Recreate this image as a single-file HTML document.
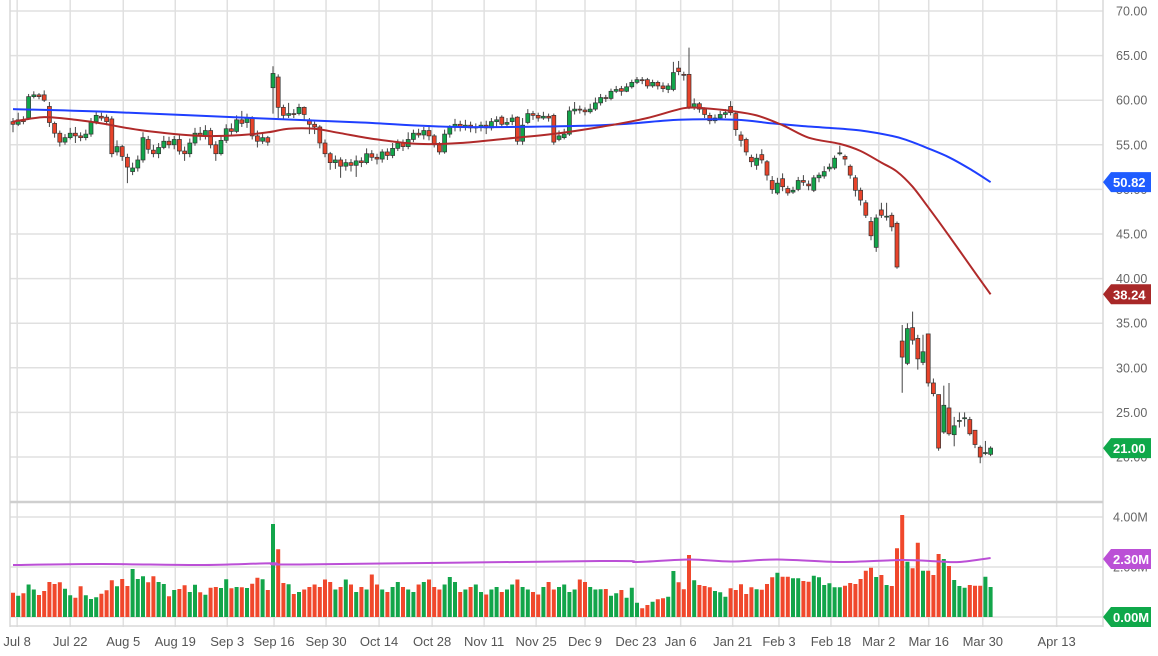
<!DOCTYPE html>
<html><head><meta charset="utf-8"><style>
html,body{margin:0;padding:0;background:#fff;}
svg{display:block;font-family:"Liberation Sans",sans-serif;}
</style></head><body>
<svg id="chart" width="1158" height="656" viewBox="0 0 1158 656" xmlns="http://www.w3.org/2000/svg">
<g id="grid"></g>
<g id="vol"></g>
<g id="candles"></g>
<g id="lines"></g>
<g id="axes"></g>
</svg>
<script>
const ohlc = [
[57.6,58.0,56.4,57.3],[57.3,58.6,57.1,57.8],[57.8,58.2,57.3,57.6],[58.0,60.7,57.8,60.4],[60.4,61.0,60.2,60.6],
[60.6,60.8,60.1,60.4],[60.6,61.1,59.8,60.0],[59.3,59.8,57.0,57.5],[57.4,57.6,55.8,56.3],[56.3,56.6,54.8,55.3],
[55.3,56.2,55.0,55.8],[55.8,56.9,55.6,56.3],[56.3,57.0,55.2,56.0],[56.0,56.4,55.4,55.8],[55.8,56.7,55.5,56.2],
[56.2,58.0,55.9,57.6],[57.6,58.8,57.3,58.3],[58.2,58.6,57.7,58.0],[58.1,58.4,57.2,57.6],[57.9,58.2,53.6,54.0],
[54.2,55.5,53.8,54.8],[54.8,55.0,53.2,53.7],[53.6,54.0,50.7,52.5],[52.0,53.0,51.6,52.4],[52.4,53.8,52.0,53.3],
[53.3,56.4,53.0,55.8],[55.6,56.0,54.0,54.5],[54.4,55.0,53.6,54.0],[54.0,55.2,53.5,54.7],[54.7,56.0,54.5,55.4],
[55.4,55.9,54.6,55.0],[55.0,56.0,54.5,55.6],[55.6,56.2,53.9,54.3],[54.3,54.8,53.2,54.0],[54.0,55.7,53.6,55.2],
[55.2,56.9,54.9,56.3],[56.3,57.0,55.5,56.0],[56.0,57.2,55.6,56.6],[56.6,56.9,54.6,55.0],[55.0,55.4,53.2,54.0],
[54.0,56.0,53.8,55.5],[55.5,57.3,55.2,56.8],[56.8,57.4,56.0,56.5],[56.5,58.3,56.3,57.8],[57.8,58.8,57.0,57.4],
[57.5,58.5,56.9,58.0],[58.0,58.2,55.6,56.0],[56.0,56.6,54.7,55.4],[55.4,56.3,55.1,55.8],[55.8,56.0,54.9,55.3],
[61.4,63.8,58.5,63.0],[62.6,62.9,58.0,59.2],[59.2,59.5,57.8,58.3],[58.3,59.7,58.0,58.5],[58.5,59.0,58.0,58.4],
[58.5,59.6,58.3,59.2],[59.2,59.3,57.8,58.4],[57.8,58.0,56.2,57.3],[57.3,57.6,56.2,57.0],[57.0,57.2,54.6,55.2],
[55.2,55.6,53.6,54.0],[54.0,54.2,52.2,53.0],[53.0,53.8,52.3,53.3],[53.3,53.6,51.3,52.6],[52.6,53.4,52.1,53.0],
[53.0,53.4,52.0,52.7],[52.7,53.8,51.4,53.2],[53.2,53.6,52.5,53.0],[53.0,54.6,52.8,54.0],[54.0,54.4,53.2,53.6],
[53.6,54.0,52.8,53.4],[53.4,54.5,53.0,54.2],[54.2,54.6,53.3,53.8],[53.8,55.2,53.5,54.6],[54.6,55.6,54.3,55.2],
[55.2,55.6,54.3,54.8],[54.8,56.4,54.5,55.6],[55.6,56.7,55.3,56.3],[56.3,56.8,55.8,56.1],[56.1,57.0,55.6,56.6],
[56.6,57.2,55.5,56.0],[56.0,56.2,54.7,55.0],[55.0,55.3,53.9,54.2],[54.2,56.7,54.0,56.2],[56.2,57.2,55.8,57.0],
[57.0,57.9,56.5,57.3],[57.3,57.7,56.5,57.0],[57.0,57.8,56.6,57.2],[57.2,57.6,56.4,56.9],[56.9,57.4,56.3,57.0],
[57.0,57.6,56.5,57.2],[57.2,57.7,56.2,56.9],[56.9,58.0,56.6,57.6],[57.6,58.2,57.0,57.8],[58.1,58.3,57.0,57.3],
[57.3,58.0,57.0,57.5],[57.6,58.4,57.2,58.0],[58.1,58.2,55.0,55.4],[55.4,58.0,55.0,57.2],[57.5,59.0,57.3,58.5],
[58.5,58.8,57.8,58.3],[58.3,58.6,57.6,58.0],[58.0,58.7,57.8,58.2],[58.2,58.5,57.6,58.0],[58.3,58.5,55.0,55.3],
[55.6,56.6,55.4,56.0],[55.8,56.8,55.6,56.2],[56.2,59.3,56.0,58.8],[58.8,59.8,58.4,59.0],[59.0,59.4,58.5,58.9],
[58.9,59.2,58.3,58.7],[58.7,59.6,58.5,59.0],[59.0,60.3,58.8,59.7],[59.7,60.7,59.4,60.3],[60.3,60.6,59.8,60.2],
[60.2,61.3,60.0,61.0],[61.0,61.6,60.8,61.2],[61.3,61.6,60.5,61.0],[61.0,61.9,60.9,61.5],[61.5,62.3,61.3,62.0],
[62.0,62.6,61.8,62.3],[62.3,62.6,61.8,62.2],[62.3,62.5,61.3,61.6],[61.6,62.3,61.4,62.0],[62.0,62.2,61.2,61.6],
[61.6,62.0,60.9,61.3],[61.2,61.9,60.8,61.6],[61.2,64.3,61.0,63.1],[63.6,64.4,62.8,63.2],[62.9,63.2,62.2,62.8],
[62.9,65.9,59.0,59.2],[59.2,60.2,58.9,59.6],[59.6,59.8,58.6,59.0],[59.0,59.2,58.0,58.4],[58.3,58.6,57.3,57.7],
[57.7,58.4,57.4,58.0],[58.0,58.8,57.8,58.4],[58.4,59.0,58.0,58.6],[59.3,59.9,58.3,58.6],[58.5,58.7,56.0,56.7],
[56.1,56.5,54.8,55.5],[55.6,55.8,53.8,54.2],[53.6,53.9,52.5,53.1],[52.7,54.0,52.2,53.5],[53.9,54.5,52.9,53.3],
[53.1,53.3,51.0,51.6],[51.0,51.5,49.5,50.0],[49.6,51.3,49.4,50.7],[51.2,51.8,49.8,50.3],[50.1,50.4,49.3,49.6],
[49.7,50.3,49.5,49.9],[50.0,51.4,49.8,51.0],[51.0,51.6,50.4,50.8],[50.6,51.0,49.9,50.4],[49.9,51.6,49.7,51.3],
[51.3,51.9,50.8,51.6],[51.5,52.6,51.2,52.0],[52.3,52.9,52.0,52.5],[52.4,53.8,52.2,53.5],[54.0,54.9,53.8,54.1],
[53.7,53.9,52.7,53.4],[52.6,52.8,51.2,51.6],[51.3,51.6,49.2,49.9],[49.9,50.2,48.2,48.8],[48.5,48.8,46.8,47.1],
[46.4,46.9,44.3,44.8],[43.5,47.2,43.0,46.8],[47.7,48.5,46.8,47.1],[46.9,48.5,46.5,47.0],[47.1,47.4,45.3,45.8],
[46.2,46.4,41.1,41.3],[33.0,34.8,27.2,31.2],[30.5,35.0,30.3,34.4],[34.5,36.3,32.6,33.1],[33.3,33.7,29.8,31.0],
[30.6,33.7,30.3,31.8],[33.8,33.8,27.9,28.3],[28.3,28.8,26.8,27.1],[27.0,27.0,20.7,21.0],[22.8,28.0,22.6,25.8],
[25.5,28.3,22.4,22.6],[22.5,24.5,21.2,23.5],[24.0,25.0,23.3,24.1],[24.3,25.0,23.4,24.4],[24.2,24.5,22.4,22.6],
[23.0,23.0,21.0,21.4],[21.1,21.3,19.3,20.0],[20.4,21.8,20.2,20.5],[20.3,21.2,20.1,21.0]
];
const volumes = [
0.97,0.85,0.95,1.3,1.1,0.88,1.04,1.4,1.32,1.39,1.13,0.87,0.77,1.23,0.87,0.72,0.79,0.93,1.07,1.47,
1.23,1.52,1.24,1.92,1.52,1.63,1.39,1.63,1.4,1.32,0.83,1.08,1.12,1.27,1.0,1.29,0.99,0.89,1.17,1.2,
1.16,1.51,1.15,1.2,1.19,1.16,1.33,1.57,1.51,1.08,3.72,2.71,1.36,1.31,0.92,
1.0,1.1,1.2,1.3,1.2,1.5,1.4,1.1,1.2,1.5,1.3,1.0,1.2,1.1,1.7,1.3,1.1,1.0,1.2,1.4,
1.2,1.1,1.0,1.3,1.4,1.5,1.2,1.1,1.3,1.6,1.4,1.0,1.1,1.2,1.3,1.0,0.9,1.1,1.2,1.0,
1.1,1.3,1.5,1.2,1.1,1.0,0.9,1.2,1.4,1.1,1.2,1.3,1.0,1.1,1.5,1.4,1.2,1.1,
1.11,1.12,0.85,0.95,1.08,0.77,1.17,0.57,0.35,0.48,0.61,0.71,0.75,0.81,1.84,1.39,1.11,2.48,1.47,1.28,
1.24,1.19,1.04,0.99,0.81,1.15,1.08,1.31,0.92,1.19,1.11,1.09,1.32,1.59,1.77,1.61,1.61,1.55,1.55,1.44,
1.41,1.65,1.59,1.28,1.35,1.19,1.19,1.25,1.36,1.32,1.52,1.85,1.97,1.60,1.68,1.28,1.24,2.75,4.08,2.21,
1.95,2.97,1.85,1.85,1.68,2.52,2.32,2.04,1.48,1.24,1.17,1.28,1.25,1.25,1.61,1.2
];
const ma50Idx = [0,6,12,17,25,36,44,49,53,58,63,70,78,86,95,105,115,122,129,133,138,143,148,153,159,163,167,170,173,176,180,184,188];
const ma50Val = [57.6,58.1,57.8,57.4,56.6,56.0,56.1,56.4,56.8,56.8,56.3,55.6,55.1,55.2,55.7,56.3,57.2,58.0,59.1,59.1,58.8,58.3,57.2,55.8,55.1,54.3,53.0,52.0,50.3,48.0,44.8,41.5,38.24];
const ma200Idx = [0,18,50,67,86,113,128,139,146,152,157,163,169,172,176,180,184,188];
const ma200Val = [59.0,58.7,57.9,57.5,57.0,57.2,57.8,57.8,57.4,57.1,56.9,56.6,56.0,55.5,54.6,53.6,52.3,50.82];
const volAvgIdx = [0,17,36,50,55,113,120,130,138,147,159,171,178,182,188];
const volAvgVal = [2.08,2.12,2.08,2.15,2.1,2.24,2.2,2.3,2.22,2.3,2.2,2.28,2.22,2.2,2.36];
const priceTicks = [70,65,60,55,50,45,40,35,30,25,20];
const volTicks = [4,2,0];
const dateLabels = ["Jul 8","Jul 22","Aug 5","Aug 19","Sep 3","Sep 16","Sep 30","Oct 14","Oct 28","Nov 11","Nov 25","Dec 9","Dec 23","Jan 6","Jan 21","Feb 3","Feb 18","Mar 2","Mar 16","Mar 30","Apr 13"];
const dateIdx = [0.8,11,21.2,31.2,41.2,50.2,60.2,70.4,80.6,90.6,100.6,110,119.8,128.4,138.4,147.3,157.3,166.5,176.1,186.5,200.7];

const NS="http://www.w3.org/2000/svg";
const X0=13, DX=5.2, PLOT_L=10, PLOT_R=1103;
const xs = i => X0 + i*DX;
const yp = p => 11 + (70-p)*8.92;
const yv = v => 617 - v*25;
function mk(tag, attrs, parent){const e=document.createElementNS(NS,tag);for(const k in attrs)e.setAttribute(k,attrs[k]);parent.appendChild(e);return e;}
const grid=document.getElementById('grid'), vol=document.getElementById('vol'), cg=document.getElementById('candles'), lg=document.getElementById('lines'), ax=document.getElementById('axes');

priceTicks.forEach(t=>{const l=mk('line',{x1:PLOT_L,x2:PLOT_R,y1:yp(t),y2:yp(t),stroke:'#e0e0e0','stroke-width':1.5},grid);

});
volTicks.forEach(t=>{const l=mk('line',{x1:PLOT_L,x2:PLOT_R,y1:yv(t),y2:yv(t),stroke:'#e0e0e0','stroke-width':1.5},grid);

});
dateIdx.forEach(d=>{const l=mk('line',{x1:xs(d),x2:xs(d),y1:0,y2:627,stroke:'#e0e0e0','stroke-width':1.5},grid);

});
[[PLOT_L,0,PLOT_L,627],[PLOT_R,0,PLOT_R,627],[PLOT_L,626,PLOT_R,626]].forEach(a=>{const l=mk('line',{x1:a[0],y1:a[1],x2:a[2],y2:a[3],stroke:'#d8d8d8','stroke-width':1.5},grid);

});
const sep=mk('line',{x1:PLOT_L,x2:PLOT_R,y1:502,y2:502,stroke:'#cfcfcf','stroke-width':2.5},grid);



volumes.forEach((v,i)=>{const up=ohlc[i][3]>=ohlc[i][0];
const r=mk('rect',{x:xs(i)-2,y:yv(v),width:4,height:v*25,fill:up?'#12a54a':'#f0482c'},vol);

});

ohlc.forEach((c,i)=>{const [o,h,l,cl]=c;const up=cl>=o;const x=xs(i);
const w=mk('line',{x1:x,x2:x,y1:yp(h),y2:yp(l),stroke:'#444','stroke-width':1},cg);


const top=yp(Math.max(o,cl)),bh=Math.max(1,Math.abs(yp(o)-yp(cl)));
const b=mk('rect',{x:x-2,y:top,width:4,height:bh,fill:up?'#12a54a':'#e8432a',stroke:'#333','stroke-width':0.7},cg);

});

function line(idx,val,yf,color,w,name){
const P=idx.map((k,j)=>[xs(k),yf(val[j])]);
let d='M'+P[0][0].toFixed(1)+','+P[0][1].toFixed(1);
for(let j=0;j<P.length-1;j++){const p0=P[Math.max(0,j-1)],p1=P[j],p2=P[j+1],p3=P[Math.min(P.length-1,j+2)];
const c1x=p1[0]+(p2[0]-p0[0])/6,c1y=p1[1]+(p2[1]-p0[1])/6,c2x=p2[0]-(p3[0]-p1[0])/6,c2y=p2[1]-(p3[1]-p1[1])/6;
d+='C'+c1x.toFixed(1)+','+c1y.toFixed(1)+' '+c2x.toFixed(1)+','+c2y.toFixed(1)+' '+p2[0].toFixed(1)+','+p2[1].toFixed(1);}
const p=mk('path',{d:d,fill:'none',stroke:color,'stroke-width':w,'stroke-linejoin':'round'},lg);

}
line(ma200Idx,ma200Val,yp,'#1f3fff',2,'ma200-line');
line(ma50Idx,ma50Val,yp,'#b02a2a',2,'ma50-line');
line(volAvgIdx,volAvgVal,yv,'#bb4fd6',2,'volume-average-line');

priceTicks.forEach(t=>{const e=mk('text',{x:1116,y:yp(t)+4.5,'font-size':12.5,fill:'#666'},ax);e.textContent=t.toFixed(2);

});
const v4=mk('text',{x:1113,y:yv(4)+4.5,'font-size':12.5,fill:'#666'},ax);v4.textContent='4.00M';


const v2=mk('text',{x:1113,y:yv(2)+4.5,'font-size':12.5,fill:'#666'},ax);v2.textContent='2.00M';


dateLabels.forEach((s,j)=>{const e=mk('text',{x:xs(dateIdx[j]),y:646,'font-size':13,fill:'#555','text-anchor':'middle'},ax);e.textContent=s;

});

function badge(y,txt,color,name){const g=mk('g',{},ax);


mk('polygon',{points:`1103,${y} 1111,${y-10} 1151,${y-10} 1151,${y+10} 1111,${y+10}`,fill:color},g);
const t=mk('text',{x:1113,y:y+5,'font-size':13,'font-weight':'bold',fill:'#fff'},g);t.textContent=txt;}
badge(yp(ma200Val[ma200Val.length-1]),'50.82','#1f5cff','ma200-value-badge');
badge(yp(ma50Val[ma50Val.length-1]),'38.24','#a82828','ma50-value-badge');
badge(yp(ohlc[ohlc.length-1][3]),'21.00','#0fa84a','last-price-badge');
badge(yv(volAvgVal[volAvgVal.length-1])+1,'2.30M','#bb4fd6','volume-average-badge');
badge(yv(0),'0.00M','#0fa84a','volume-value-badge');
</script>
</body></html>
